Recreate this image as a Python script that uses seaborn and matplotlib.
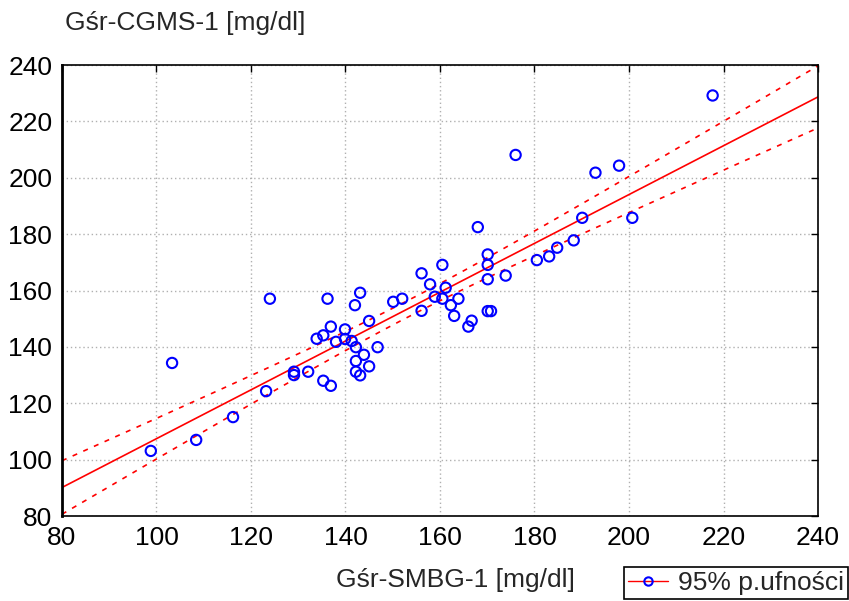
import numpy as np
import pandas as pd
import matplotlib
matplotlib.use('Agg')
import matplotlib.pyplot as plt
from matplotlib.lines import Line2D
import seaborn as sns

# Punkty: SMBG (x) vs CGMS (y), mg/dl
smbg = [98.8, 103.3, 108.4, 116.2, 123.2, 124.0, 129.1, 129.1, 132.1, 133.9,
        135.3, 135.3, 136.2, 136.9, 136.9, 138.0, 139.9, 139.9, 141.3, 142.0,
        142.2, 142.2, 142.2, 143.1, 143.1, 143.9, 145.0, 145.0, 146.8, 150.1,
        152.0, 156.1, 156.1, 157.9, 158.9, 160.5, 160.5, 161.2, 162.3, 163.0,
        163.9, 166.0, 166.7, 168.0, 170.1, 170.1, 170.1, 170.1, 170.8, 173.9,
        176.0, 180.5, 183.1, 184.8, 188.3, 190.1, 192.9, 197.9, 200.7, 217.7]
cgms = [103.1, 134.3, 107.0, 115.1, 124.3, 157.1, 131.2, 130.0, 131.2, 142.9,
        144.1, 128.0, 157.1, 147.2, 126.2, 141.8, 146.2, 142.8, 142.1, 154.8,
        139.9, 135.0, 131.2, 159.2, 129.9, 137.2, 149.2, 133.1, 139.9, 156.0,
        157.1, 152.8, 166.1, 162.2, 157.8, 169.1, 157.1, 161.0, 154.8, 151.0,
        157.1, 147.2, 149.3, 182.5, 172.8, 169.1, 164.0, 152.7, 152.7, 165.3,
        208.1, 170.8, 172.1, 175.2, 177.8, 185.8, 201.8, 204.3, 185.8, 229.2]

x_ticks = [80, 100, 120, 140, 160, 180, 200, 220, 240]
y_ticks = [80, 100, 120, 140, 160, 180, 200, 220, 240]

df = pd.DataFrame({'smbg': smbg, 'cgms': cgms})

sns.set_style('white')
plt.rcParams['font.family'] = ['Liberation Sans', 'DejaVu Sans']
FS = 19

fig = plt.figure(figsize=(8.49, 6.01), dpi=100)
ax = fig.add_axes([0.073, 0.1414, 0.8905, 0.7504])

# regresja liniowa + 95% przedział ufności dla średniej
x = df['smbg'].values
y = df['cgms'].values
n = len(x)
b, a = np.polyfit(x, y, 1)
resid = y - (a + b * x)
s = np.sqrt(np.sum(resid ** 2) / (n - 2))
t = 2.0017  # t(0.975, df=58)
xs = np.linspace(80, 240, 200)
ys = a + b * xs
se = s * np.sqrt(1 / n + (xs - x.mean()) ** 2 / np.sum((x - x.mean()) ** 2))

ax.plot(xs, ys, color='red', lw=1.2, zorder=2)
ax.plot(xs, ys + t * se, color='red', lw=1.2, ls=(0, (3, 4)), zorder=2)
ax.plot(xs, ys - t * se, color='red', lw=1.2, ls=(0, (3, 4)), zorder=2)

sns.scatterplot(data=df, x='smbg', y='cgms', ax=ax, marker='o', s=55,
                facecolor='none', edgecolor='blue', linewidth=1.5, zorder=3)

ax.set_xlim(80, 240)
ax.set_ylim(80, 240)
ax.set_xticks(x_ticks)
ax.set_yticks(y_ticks)
ax.grid(True, color='#b0b0b0', ls=(0, (1, 2)), lw=1)
ax.tick_params(direction='in', length=5, width=1, top=True, right=True,
               labelsize=FS, colors='black', pad=7)
for sp in ax.spines.values():
    sp.set_color('black')
    sp.set_linewidth(1.2)
ax.spines['left'].set_linewidth(2)
ax.set_xlabel('')
ax.set_ylabel('')

fig.text(0.077, 0.962, 'Gśr-CGMS-1 [mg/dl]', fontsize=FS, va='center', ha='left')
fig.text(0.537, 0.035, 'Gśr-SMBG-1 [mg/dl]', fontsize=FS, va='center', ha='center')

handle = Line2D([0], [0], color='red', lw=1, marker='o', mfc='none', mec='blue',
                mew=1.5, markersize=6)
leg = fig.legend([handle], ['95% p.ufności'], loc='lower right',
                 bbox_to_anchor=(0.999, 0.003), fontsize=FS, fancybox=False,
                 framealpha=1, edgecolor='black', handlelength=1.5,
                 borderpad=0.15, handletextpad=0.4, borderaxespad=0)
leg.get_frame().set_linewidth(1.2)

fig.savefig('out.png', dpi=100, facecolor='white')
